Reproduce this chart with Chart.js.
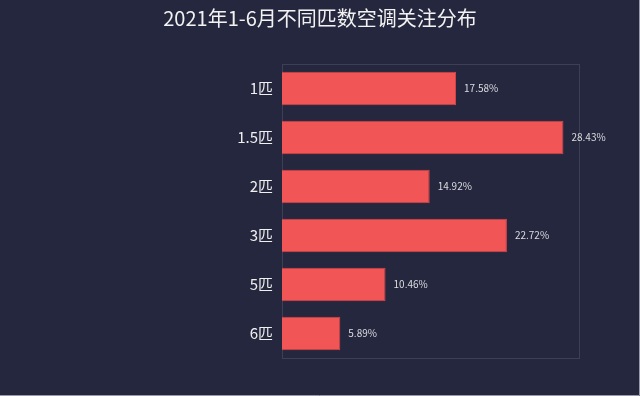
<!DOCTYPE html>
<html>
<head>
<meta charset="utf-8">
<script src="https://cdn.jsdelivr.net/npm/chart.js@4"></script>
<style>
  html, body { margin: 0; padding: 0; background: #25273e; }
  #wrap { width: 640px; height: 396px; }
</style>
</head>
<body>
<div id="wrap"><canvas id="c" width="640" height="396"></canvas></div>
<script>
const title = "2021年1-6月不同匹数空调关注分布";
const categories = ["1匹", "1.5匹", "2匹", "3匹", "5匹", "6匹"];
const shares = [17.58, 28.43, 14.92, 22.72, 10.46, 5.89];

const fontFamily = "'Noto Sans CJK SC', 'Noto Sans', sans-serif";

// title, plot box, image edge and value labels
const decor = {
  id: "decor",
  beforeDatasetsDraw(chart) {
    const { ctx, chartArea: a } = chart;
    ctx.save();
    ctx.strokeStyle = "#3c3f56";
    ctx.lineWidth = 1;
    ctx.strokeRect(a.left + 0.5, a.top + 0.5, a.right - a.left, a.bottom - a.top);
    // thin light edge at the bottom and right of the picture
    ctx.strokeStyle = "#9a9aa8";
    ctx.beginPath();
    ctx.moveTo(0, 395.5);
    ctx.lineTo(639.5, 395.5);
    ctx.lineTo(639.5, 0);
    ctx.stroke();
    ctx.restore();
  },
  afterDatasetsDraw(chart) {
    const { ctx } = chart;
    ctx.save();
    ctx.fillStyle = "#f2f2f2";
    ctx.font = "20px " + fontFamily;
    ctx.textAlign = "center";
    ctx.textBaseline = "middle";
    ctx.fillText(title, 320, 18);

    ctx.fillStyle = "#dcdce0";
    ctx.font = "10px " + fontFamily;
    ctx.textAlign = "left";
    chart.getDatasetMeta(0).data.forEach((bar, i) => {
      ctx.fillText(shares[i].toFixed(2) + "%", bar.x + 8, bar.y);
    });
    ctx.restore();
  }
};

new Chart(document.getElementById("c"), {
  type: "bar",
  data: {
    labels: categories,
    datasets: [{
      data: shares,
      backgroundColor: "#f25555",
      borderColor: "#d94448",
      borderWidth: 1,
      borderSkipped: "left",
      barPercentage: 0.68,
      categoryPercentage: 1
    }]
  },
  options: {
    indexAxis: "y",
    responsive: false,
    animation: false,
    layout: { padding: { top: 64, right: 61, bottom: 38, left: 0 } },
    plugins: { legend: { display: false }, tooltip: { enabled: false } },
    scales: {
      x: { display: false, min: 0, max: 30 },
      y: {
        grid: { display: false },
        border: { color: "#b8b8c4", width: 1 },
        ticks: {
          color: "#f0f0f0",
          padding: 1,
          font: { family: fontFamily, size: 15 }
        },
        afterFit(scale) { scale.width = 282; }
      }
    }
  },
  plugins: [decor]
});
</script>
</body>
</html>
